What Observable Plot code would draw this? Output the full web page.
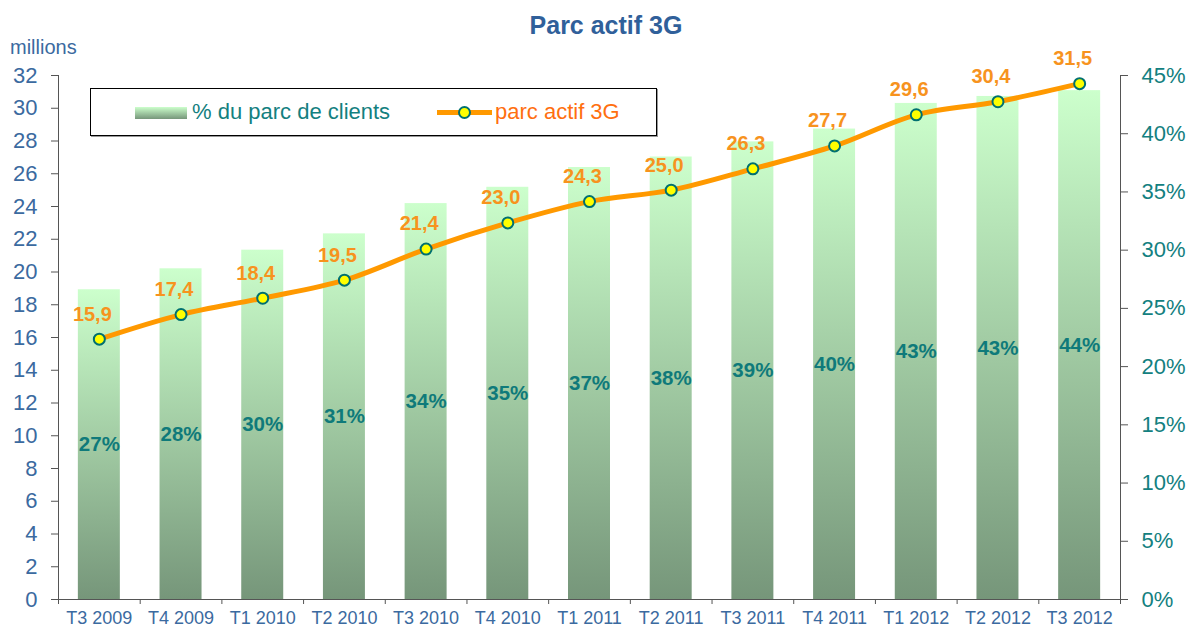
<!DOCTYPE html>
<html><head><meta charset="utf-8">
<script src="https://cdn.jsdelivr.net/npm/d3@7"></script>
<script src="https://cdn.jsdelivr.net/npm/@observablehq/plot@0.6"></script>
<style>
body{margin:0;background:#fff;font-family:"Liberation Sans",Arial,sans-serif}
#wrap{position:relative;width:1190px;height:629px;overflow:hidden}
#chart{position:absolute;left:0;top:0}
.abs{position:absolute;line-height:1;white-space:nowrap}
#title{left:406px;width:400px;top:13px;text-align:center;font-size:25px;font-weight:bold;color:#30609A}
#unit{left:10px;top:37px;font-size:20px;color:#3B6AA0}
#legend{position:absolute;left:90px;top:88px;width:567px;height:48px;box-sizing:border-box;border:1px solid #000;background:#fff;box-shadow:1px 1px 0 #999}
#sw{position:absolute;left:135px;top:107px;width:52px;height:12px;background:linear-gradient(#CCFFCC,#76967A)}
#lt1{left:192px;top:101px;font-size:22px;color:#138080}
#lt2{left:495px;top:101px;font-size:22px;color:#FF6F0F}
#lsym{position:absolute;left:437px;top:100px}
</style></head>
<body><div id="wrap">
<div id="chart"></div>
<div class="abs" id="title">Parc actif 3G</div>
<div class="abs" id="unit">millions</div>
<div id="legend"></div>
<div id="sw"></div>
<div class="abs" id="lt1">% du parc de clients</div>
<svg id="lsym" width="56" height="25"><line x1="0" x2="55" y1="12.5" y2="12.5" stroke="#FF9900" stroke-width="5"/><circle cx="27.5" cy="12.5" r="5.5" fill="#FFFF00" stroke="#007070" stroke-width="2"/></svg>
<div class="abs" id="lt2">parc actif 3G</div>
</div>
<script>
const quarters = ["T3 2009","T4 2009","T1 2010","T2 2010","T3 2010","T4 2010","T1 2011","T2 2011","T3 2011","T4 2011","T1 2012","T2 2012","T3 2012"];
const parcActif = [15.9,17.4,18.4,19.5,21.4,23.0,24.3,25.0,26.3,27.7,29.6,30.4,31.5];
const partClients = [26.6,28.4,30.0,31.4,34.0,35.4,37.1,38.0,39.3,40.4,42.6,43.2,43.7];
const leftTicks = [0,2,4,6,8,10,12,14,16,18,20,22,24,26,28,30,32];
const rightTicks = [0,5,10,15,20,25,30,35,40,45];

const leftMax = 32, rightMax = 45;
const k = leftMax / rightMax;
const data = quarters.map((q, i) => ({i, q, parc: parcActif[i], pct: partClients[i]}));
const boundaries = quarters.map((_, i) => i - 0.5).concat([quarters.length - 0.5]);
const halfBar = 0.257;

const blue = "#3B6AA0", teal = "#138080", axisC = "#555";

const plot = Plot.plot({
  width: 1190, height: 629,
  marginTop: 75, marginBottom: 30, marginLeft: 58, marginRight: 70,
  style: {fontFamily: "'Liberation Sans', Arial, sans-serif", background: "transparent", overflow: "visible"},
  x: {type: "linear", domain: [-0.5, quarters.length - 0.5]},
  y: {domain: [0, leftMax]},
  marks: [
    Plot.rect(data, {x1: d => d.i - halfBar, x2: d => d.i + halfBar, y1: 0, y2: d => d.pct * k, fill: "url(#barGrad)"}),
    Plot.text(data, {x: "i", y: d => d.pct * k / 2, text: d => Math.round(d.pct) + "%", fill: "#0F7A7A", fontWeight: "bold", fontSize: 20.5}),
    Plot.ruleX([-0.5, quarters.length - 0.5], {y1: 0, y2: leftMax, stroke: axisC}),
    Plot.ruleY([0], {stroke: axisC}),
    Plot.axisY({ticks: leftTicks, tickSize: 7, tickPadding: 14, fontSize: 22, fill: blue, stroke: axisC, label: null}),
    Plot.axisY({anchor: "right", ticks: rightTicks.map(p => p * k), tickFormat: d => Math.round(d / k) + "%", tickSize: 7, tickPadding: 14, fontSize: 22, fill: teal, stroke: axisC, label: null}),
    Plot.axisX({ticks: boundaries, tickFormat: () => "", tickSize: 5, stroke: axisC, label: null}),
    Plot.axisX({ticks: data.map(d => d.i), tickFormat: i => quarters[i], tickSize: 0, tickPadding: 12, fontSize: 18, fill: blue, label: null}),
    Plot.line(data, {x: "i", y: "parc", stroke: "#FF9900", strokeWidth: 5, curve: "catmull-rom"}),
    Plot.dot(data, {x: "i", y: "parc", r: 5.5, fill: "#FFFF00", stroke: "#007070", strokeWidth: 2}),
    Plot.text(data, {x: "i", y: "parc", text: d => d.parc.toFixed(1).replace(".", ","), dy: -25, dx: -7, fill: "#F7931E", fontWeight: "bold", fontSize: 20})
  ]
});
const ns = "http://www.w3.org/2000/svg";
const defs = document.createElementNS(ns, "defs");
defs.innerHTML = '<linearGradient id="barGrad" x1="0" y1="0" x2="0" y2="1"><stop offset="0" stop-color="#CCFFCC"/><stop offset="1" stop-color="#76967A"/></linearGradient>';
plot.insertBefore(defs, plot.firstChild);
document.getElementById("chart").appendChild(plot);
</script>
</body></html>
